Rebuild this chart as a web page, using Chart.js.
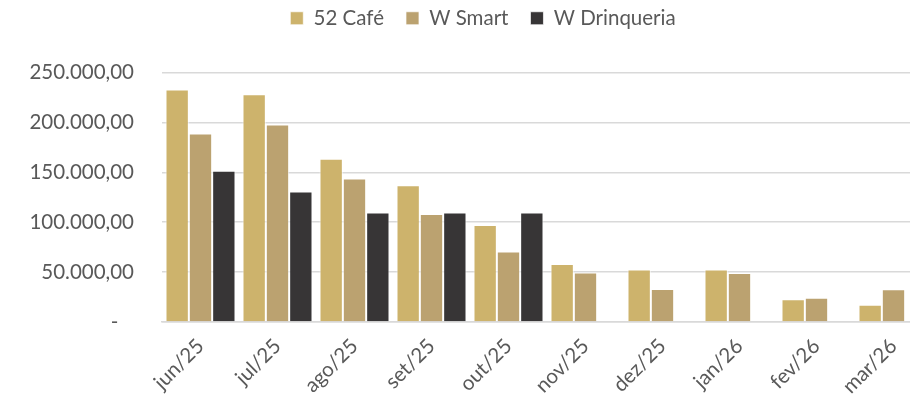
<!DOCTYPE html>
<html>
<head>
<meta charset="utf-8">
<script src="https://cdn.jsdelivr.net/npm/chart.js@4"></script>
<style>
  html, body { margin: 0; padding: 0; background: #fff; overflow: hidden; }
  #wrap { width: 945px; height: 403px; }
</style>
</head>
<body>
<div id="wrap"><canvas id="chart" width="945" height="403"></canvas></div>
<script>
const months = ["jun/25", "jul/25", "ago/25", "set/25", "out/25", "nov/25", "dez/25", "jan/26", "fev/26", "mar/26"];
const cafe52 = [233000, 228300, 163700, 137000, 97300, 58000, 52700, 52700, 22700, 17300];
const wSmart = [189000, 198000, 143700, 108300, 70700, 49700, 33000, 49000, 24300, 32700];
const wDrinqueria = [151600, 130700, 109700, 109700, 109700, null, null, null, null, null];
const yTickLabels = ["-   ", "50.000,00", "100.000,00", "150.000,00", "200.000,00", "250.000,00"];

const textColor = "#595959";
const font = { family: "Lato, 'Open Sans', sans-serif", size: 20.5 };

// push the plot area down below the legend, and nudge the legend right
const legendSpace = {
  id: "legendSpace",
  beforeInit(chart) {
    const fit = chart.legend.fit;
    chart.legend.fit = function () {
      fit.call(this);
      this.height += 34;
    };
  },
  afterLayout(chart) {
    chart.legend.left += 17;
    chart.legend.right += 17;
  }
};

new Chart(document.getElementById("chart").getContext("2d"), {
  type: "bar",
  data: {
    labels: months,
    datasets: [
      { label: "52 Café", data: cafe52, backgroundColor: "#cdb36c" },
      { label: "W Smart", data: wSmart, backgroundColor: "#bba270" },
      { label: "W Drinqueria", data: wDrinqueria, backgroundColor: "#373536" }
    ]
  },
  plugins: [legendSpace],
  options: {
    responsive: false,
    animation: false,
    layout: { padding: { left: 0, right: 13, top: -14, bottom: 0 } },
    datasets: {
      bar: {
        categoryPercentage: 70 / 77,
        barPercentage: 1,
        borderColor: "rgba(255,255,255,0.7)",
        borderWidth: 1
      }
    },
    plugins: {
      legend: {
        position: "top",
        labels: {
          color: textColor,
          font: font,
          boxWidth: 13,
          boxHeight: 13,
          padding: 22
        }
      },
      tooltip: { enabled: false }
    },
    scales: {
      x: {
        grid: { display: false },
        border: { display: true, color: "#d9d9d9", width: 1.5 },
        ticks: { color: textColor, font: font, minRotation: 45, maxRotation: 45, padding: 4 },
        afterFit: axis => { axis.height = 81; }
      },
      y: {
        min: 0,
        max: 250000,
        grid: { color: "#d9d9d9", lineWidth: 1.5, drawTicks: false },
        border: { display: false },
        ticks: {
          stepSize: 50000,
          color: textColor,
          font: font,
          padding: 28,
          callback: v => yTickLabels[Math.round(v / 50000)]
        },
        afterFit: axis => { axis.width = 162; }
      }
    }
  }
});
</script>
</body>
</html>
